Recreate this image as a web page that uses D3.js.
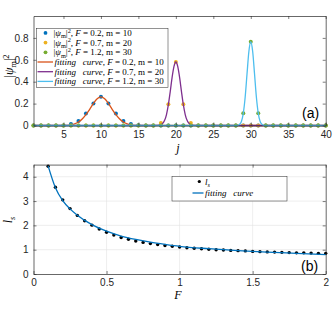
<!DOCTYPE html>
<html>
<head>
<meta charset="utf-8">
<script src="https://cdn.jsdelivr.net/npm/d3@7"></script>
<style>
  body { margin: 0; background: #fff; }
  text { white-space: pre; }
</style>
</head>
<body>
<div id="chart-area"></div>
<script>
// ---- data: panel (a) ----
const jValues = [1,2,3,4,5,6,7,8,9,10,11,12,13,14,15,16,17,18,19,20,
                 21,22,23,24,25,26,27,28,29,30,31,32,33,34,35,36,37,38,39,40];
const psiF02 = [0,0,0,0,0,0.013,0.04,0.109,0.202,0.262,0.202,0.109,0.04,0.013,0.003,0,0,0,0,0,
                0,0,0,0,0,0,0,0,0,0,0,0,0,0,0,0,0,0,0,0];
const psiF07 = [0,0,0,0,0,0,0,0,0,0,0,0,0,0,0,0,0,0.022,0.193,0.58,
                0.193,0.022,0,0,0,0,0,0,0,0,0,0,0,0,0,0,0,0,0,0];
const psiF12 = [0,0,0,0,0,0,0,0,0,0,0,0,0,0,0,0,0,0,0,0,
                0,0,0,0,0,0,0,0,0.111,0.765,0.111,0,0,0,0,0,0,0,0,0];

// fitting curves, read as sample points
const fitJ1 = [1,5,5.5,6,6.5,7,7.5,8,8.5,9,9.5,10,10.5,11,11.5,12,12.5,13,13.5,14,14.5,15,40];
const fitV1 = [0,0,0.001,0.005,0.014,0.032,0.06,0.1,0.148,0.202,0.245,0.262,0.245,0.202,0.148,0.1,0.06,0.032,0.014,0.005,0.001,0,0];
const fitJ2 = [1,17,17.5,18,18.25,18.5,18.75,19,19.25,19.5,19.75,20,20.25,20.5,20.75,21,21.25,21.5,21.75,22,22.5,23,40];
const fitV2 = [0,0,0.001,0.008,0.02,0.047,0.1,0.19,0.31,0.44,0.54,0.58,0.54,0.44,0.31,0.19,0.1,0.047,0.02,0.008,0.001,0,0];
const fitJ3 = [1,28,28.25,28.5,28.75,29,29.25,29.5,29.75,30,30.25,30.5,30.75,31,31.25,31.5,31.75,32,40];
const fitV3 = [0,0,0.002,0.01,0.037,0.111,0.258,0.472,0.678,0.765,0.678,0.472,0.258,0.111,0.037,0.01,0.002,0,0];

const aXTicks = [5,10,15,20,25,30,35,40];
const aYTicks = [0,0.2,0.4,0.6,0.8];

// ---- data: panel (b) ----
const fValues = [0.1,0.15,0.2,0.25,0.3,0.35,0.4,0.45,0.5,0.55,0.6,0.65,0.7,0.75,0.8,0.85,0.9,0.95,1.0,
                 1.05,1.1,1.15,1.2,1.25,1.3,1.35,1.4,1.45,1.5,1.55,1.6,1.65,1.7,1.75,1.8,1.85,1.9,1.95,2.0];
const lsValues = [4.43,3.57,3.05,2.69,2.41,2.19,2.01,1.85,1.72,1.6,1.5,1.43,1.36,1.3,1.25,1.21,1.17,1.14,1.11,
                  1.08,1.06,1.04,1.02,1.0,0.99,0.97,0.96,0.95,0.93,0.92,0.91,0.9,0.89,0.88,0.87,0.87,0.86,0.85,0.85];
const fitF = [0.1,0.15,0.2,0.25,0.3,0.4,0.5,0.6,0.7,0.8,0.9,1.0,1.2,1.4,1.6,1.8,2.0];
const fitLs = [4.45,3.55,3.02,2.68,2.42,2.03,1.76,1.56,1.42,1.31,1.22,1.14,1.04,0.96,0.9,0.85,0.8];
const bXTicks = [0,0.5,1,1.5,2];
const bYTicks = [0,1,2,3,4];

const colors = {
  blue: "#0072BD", orange: "#D95319", yellow: "#EDB120",
  purple: "#7E2F8E", green: "#77AC30", cyan: "#4DBEEE", axis: "#262626"
};

const svgWidth = 336, svgHeight = 310;
const svg = d3.select("#chart-area").append("svg")
  .attr("width", svgWidth).attr("height", svgHeight);

const sans = "Liberation Sans, Arial, sans-serif";
const serif = "Liberation Serif, Times New Roman, serif";

// append LaTeX-ish text built from [string, style] pieces
function richText(sel, x, y, size, pieces) {
  const t = sel.append("text").attr("x", x).attr("y", y)
    .attr("font-family", serif).attr("font-size", size).attr("fill", "#000");
  let shift = 0;
  pieces.forEach(([s, st]) => {
    const sp = t.append("tspan").text(s);
    let target = 0;
    if (st && st.includes("sub")) { target = size * 0.25; sp.attr("font-size", size * 0.7); }
    if (st && st.includes("sup")) { target = -size * 0.35; sp.attr("font-size", size * 0.7); }
    if (st && st.includes("i")) sp.attr("font-style", "italic");
    sp.attr("dy", target - shift);
    shift = target;
  });
  return t;
}

function drawGrid(g, x, y, xTicks, yTicks) {
  const [x0, x1] = x.range(), [y0, y1] = y.range();
  g.append("g").selectAll("line").data(xTicks.filter(d => d > x.domain()[0] && d < x.domain()[1]))
    .join("line").attr("x1", d => x(d)).attr("x2", d => x(d)).attr("y1", y0).attr("y2", y1)
    .attr("stroke", "#e3e3e3").attr("stroke-width", 0.6);
  g.append("g").selectAll("line").data(yTicks.filter(d => d > y.domain()[0] && d < y.domain()[1]))
    .join("line").attr("y1", d => y(d)).attr("y2", d => y(d)).attr("x1", x0).attr("x2", x1)
    .attr("stroke", "#e3e3e3").attr("stroke-width", 0.6);
}

function drawAxes(g, x, y, xTicks, yTicks) {
  const [x0, x1] = x.range(), [y0, y1] = y.range();
  const xAxis = g.append("g").attr("transform", `translate(0,${y0})`)
    .call(d3.axisBottom(x).tickValues(xTicks).tickFormat(d => d).tickSizeInner(-3).tickSizeOuter(0).tickPadding(5));
  const xTop = g.append("g").attr("transform", `translate(0,${y1})`)
    .call(d3.axisTop(x).tickValues(xTicks).tickFormat("").tickSizeInner(-3).tickSizeOuter(0));
  const yAxis = g.append("g").attr("transform", `translate(${x0},0)`)
    .call(d3.axisLeft(y).tickValues(yTicks).tickFormat(d => d).tickSizeInner(-3).tickSizeOuter(0).tickPadding(5));
  const yRight = g.append("g").attr("transform", `translate(${x1},0)`)
    .call(d3.axisRight(y).tickValues(yTicks).tickFormat("").tickSizeInner(-3).tickSizeOuter(0));
  [xAxis, xTop, yAxis, yRight].forEach(a => {
    a.select(".domain").attr("stroke", colors.axis).attr("stroke-width", 0.7);
    a.selectAll("line").attr("stroke", colors.axis).attr("stroke-width", 0.6);
    a.selectAll("text").attr("font-family", sans).attr("font-size", 10).attr("fill", colors.axis);
  });
}

// ================= panel (a) =================
const xa = d3.scaleLinear().domain([1, 40]).range([33.5, 325.7]);
const ya = d3.scaleLinear().domain([0, 1]).range([125.5, 16]);
const ga = svg.append("g");

const lineA = d3.line().x(d => xa(d[0])).y(d => ya(d[1])).curve(d3.curveMonotoneX);
function dotsA(vals, color) {
  ga.append("g").selectAll("circle").data(jValues.map((j, i) => [j, vals[i]]))
    .join("circle").attr("cx", d => xa(d[0])).attr("cy", d => ya(d[1])).attr("r", 2)
    .attr("fill", color);
}
function fitA(js, vs, color) {
  ga.append("path").datum(js.map((j, i) => [j, vs[i]]))
    .attr("d", lineA).attr("fill", "none").attr("stroke", color).attr("stroke-width", 1.3);
}
dotsA(psiF02, colors.blue);
fitA(fitJ1, fitV1, colors.orange);
dotsA(psiF07, colors.yellow);
fitA(fitJ2, fitV2, colors.purple);
dotsA(psiF12, colors.green);
fitA(fitJ3, fitV3, colors.cyan);

drawAxes(ga, xa, ya, aXTicks, aYTicks);

// legend (a)
const legA = ga.append("g");
legA.append("rect").attr("x", 36.7).attr("y", 28.3).attr("width", 131.3).attr("height", 59)
  .attr("fill", "#fff").attr("stroke", colors.axis).attr("stroke-width", 0.5);
const legRows = [
  { kind: "dot", color: colors.blue, F: "0.2", m: "10" },
  { kind: "dot", color: colors.yellow, F: "0.7", m: "20" },
  { kind: "dot", color: colors.green, F: "1.2", m: "30" },
  { kind: "line", color: colors.orange, F: "0.2", m: "10" },
  { kind: "line", color: colors.purple, F: "0.7", m: "20" },
  { kind: "line", color: colors.cyan, F: "1.2", m: "30" }
];
legRows.forEach((r, i) => {
  const cy = 32.9 + i * 9.7;
  if (r.kind === "dot") {
    legA.append("circle").attr("cx", 45.5).attr("cy", cy).attr("r", 1.9).attr("fill", r.color);
    richText(legA, 53.5, cy + 3, 9, [["|", ""], ["ψ", "i"], ["m", "sub"], ["|", ""], ["2", "sup"],
      [", ", ""], ["F", "i"], [` = ${r.F}, m = ${r.m}`, ""]]);
  } else {
    legA.append("line").attr("x1", 37.5).attr("x2", 53).attr("y1", cy).attr("y2", cy)
      .attr("stroke", r.color).attr("stroke-width", 1.3);
    richText(legA, 54.5, cy + 3, 9, [["fitting   curve", "i"], [", ", ""], ["F", "i"],
      [` = ${r.F}, m = ${r.m}`, ""]]);
  }
});

// labels (a)
richText(ga, 178, 152, 12, [["j", "i"]]).attr("text-anchor", "middle");
richText(ga, 0, 0, 12, [["|", ""], ["ψ", "i"], ["m", "sub"], ["|", ""], ["2", "sup"]])
  .attr("text-anchor", "middle").attr("transform", "translate(13,66) rotate(-90)");
ga.append("text").text("(a)").attr("x", 302).attr("y", 118)
  .attr("font-family", sans).attr("font-size", 14).attr("fill", "#000");

// ================= panel (b) =================
const xb = d3.scaleLinear().domain([0, 2]).range([33.5, 325.7]);
const yb = d3.scaleLinear().domain([0, 4.5]).range([274, 164.6]);
const gb = svg.append("g");

drawGrid(gb, xb, yb, bXTicks, bYTicks);

gb.append("g").selectAll("circle").data(fValues.map((f, i) => [f, lsValues[i]]))
  .join("circle").attr("cx", d => xb(d[0])).attr("cy", d => yb(d[1])).attr("r", 1.7)
  .attr("fill", "#000");
gb.append("path").datum(fitF.map((f, i) => [f, fitLs[i]]))
  .attr("d", d3.line().x(d => xb(d[0])).y(d => yb(d[1])).curve(d3.curveMonotoneX))
  .attr("fill", "none").attr("stroke", colors.blue).attr("stroke-width", 1.3);

drawAxes(gb, xb, yb, bXTicks, bYTicks);

// legend (b)
const legB = gb.append("g");
legB.append("rect").attr("x", 172).attr("y", 176.5).attr("width", 115).attr("height", 24.5)
  .attr("fill", "#fff").attr("stroke", colors.axis).attr("stroke-width", 0.5);
legB.append("circle").attr("cx", 199.3).attr("cy", 181.5).attr("r", 1.6).attr("fill", "#000");
richText(legB, 205, 184.5, 9, [["l", "i"], ["s", "i sub"]]);
legB.append("line").attr("x1", 192.5).attr("x2", 203.5).attr("y1", 193).attr("y2", 193)
  .attr("stroke", colors.blue).attr("stroke-width", 1.3);
richText(legB, 205, 196, 9, [["fitting   curve", "i"]]);

// labels (b)
richText(gb, 178, 299, 12, [["F", "i"]]).attr("text-anchor", "middle");
richText(gb, 0, 0, 12, [["l", "i"], ["s", "i sub"]])
  .attr("text-anchor", "middle").attr("transform", "translate(12,220) rotate(-90)");
gb.append("text").text("(b)").attr("x", 301).attr("y", 271)
  .attr("font-family", sans).attr("font-size", 14).attr("fill", "#000");
</script>
</body>
</html>
